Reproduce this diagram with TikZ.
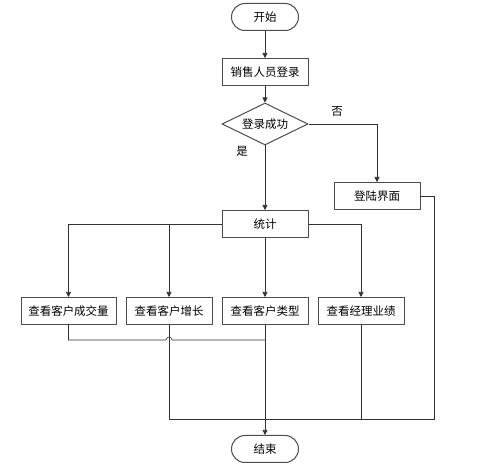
\documentclass[tikz,border=0pt]{standalone}
\usepackage{fontspec}
\newfontfamily\cjk{Noto Sans CJK SC}
\usetikzlibrary{arrows.meta,shapes.geometric,calc}
\begin{document}
\begin{tikzpicture}[x=1pt,y=-1pt,
  every node/.style={font=\cjk\fontsize{11.5}{13}\selectfont},
  boxstyle/.style={draw=black!70,line width=1pt,minimum width=86pt,minimum height=27pt,inner sep=0pt},
  termstyle/.style={draw=black!70,line width=1pt,rounded corners=13.5pt,minimum width=67pt,minimum height=27pt,inner sep=0pt},
  decstyle/.style={draw=black!70,line width=1pt,diamond,aspect=2.05,minimum width=86pt,minimum height=42pt,inner sep=0pt},
  conn/.style={draw=black!80,line width=0.6pt},
  arr/.style={conn,-{Triangle[length=5pt,width=5pt]}},
  lbl/.style={inner sep=0pt}]
\useasboundingbox (0,0) rectangle (480,470);
\node[termstyle] (start) at (265,17) {开始};
\node[boxstyle] (login) at (265,72) {销售人员登录};
\node[decstyle] (check) at (265,124) {登录成功};
\node[boxstyle] (fail) at (377,196) {登陆界面};
\node[boxstyle] (stat) at (265,224) {统计};
\node[boxstyle,minimum width=95pt] (b1) at (68.5,311) {查看客户成交量};
\node[boxstyle] (b2) at (169,311) {查看客户增长};
\node[boxstyle] (b3) at (265,311) {查看客户类型};
\node[boxstyle] (b4) at (361,311) {查看经理业绩};
\node[termstyle] (end) at (265,449) {结束};
\node[lbl] (no) at (337,111) {否};
\node[lbl] (yes) at (242,151) {是};
\coordinate (rj) at (434,196);
\coordinate (hy) at (0,340);
\coordinate (by) at (0,419);
\draw[arr] (start) -- (login);
\draw[arr] (login) -- (check);
\draw[arr] (check.east) -| (fail.north);
\draw[arr] (check) -- (stat);
\draw[arr] (stat.west) -| (b1.north);
\draw[arr] (stat.west) -| (b2.north);
\draw[arr] (stat) -- (b3);
\draw[arr] (stat.east) -| (b4.north);
\draw[conn] (b1.south) |- ($(b2.south|-hy)+(-3,0)$) arc[start angle=180,end angle=0,radius=3pt] -- (b3.south|-hy);
\draw[conn] (b2.south) |- (b3.south|-by);
\draw[conn] (b4.south) |- (b3.south|-by);
\draw[conn] (fail.east) -- (rj) |- (b3.south|-by);
\draw[arr] (b3) -- (end);
\end{tikzpicture}
\end{document}
